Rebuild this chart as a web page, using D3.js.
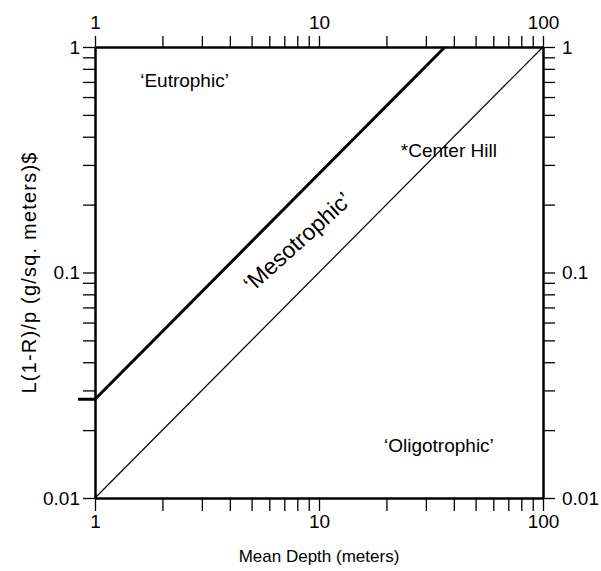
<!DOCTYPE html>
<html>
<head>
<meta charset="utf-8">
<script src="https://cdn.jsdelivr.net/npm/d3@7"></script>
<style>
  body { margin: 0; background: #fff; }
  svg text { font-family: Arial, "Liberation Sans", Helvetica, sans-serif; fill: #000; }
  .axis path { stroke: #000; stroke-width: 2.5; }
  .axis line { stroke: #000; stroke-width: 1.3; }
  .axis text { font-size: 19px; }
</style>
</head>
<body>
<div id="chart"></div>
<script>
var width = 601, height = 571;
var margin = {top: 47, right: 58, bottom: 73, left: 95};

// data
var xDomain = [1, 100];
var yDomain = [0.01, 1];
var xTicks = [1,2,3,4,5,6,7,8,9,10,20,30,40,50,60,70,80,90,100];
var xLabels = [1, 10, 100];
var yTicks = [0.01,0.02,0.03,0.04,0.05,0.06,0.07,0.08,0.09,0.1,0.2,0.3,0.4,0.5,0.6,0.7,0.8,0.9,1];
var yLabels = [0.01, 0.1, 1];
// boundary eutrophic / mesotrophic (thick)
var upperLine = [[0.84, 0.0274], [1, 0.0274], [36.5, 1]];
// boundary mesotrophic / oligotrophic (thin)
var lowerLine = [[1, 0.01], [100, 1]];
var regionLabels = [
  {text: "\u2018Eutrophic\u2019", x: 2.51, y: 0.70, angle: 0, size: 19},
  {text: "\u2018Mesotrophic\u2019", x: 8.1, y: 0.135, angle: -42, size: 23},
  {text: "*Center Hill", x: 38, y: 0.342, angle: 0, size: 19},
  {text: "\u2018Oligotrophic\u2019", x: 34.3, y: 0.0168, angle: 0, size: 19}
];

var svg = d3.select("#chart").append("svg")
  .attr("width", width)
  .attr("height", height);

var x = d3.scaleLog().domain(xDomain).range([margin.left, width - margin.right]);
var y = d3.scaleLog().domain(yDomain).range([height - margin.bottom, margin.top]);

var fmtX = function(d) { return xLabels.includes(d) ? d3.format("d")(d) : ""; };
var fmtY = function(d) {
  var hit = yLabels.find(function(v) { return Math.abs(v - d) < 1e-9; });
  return hit === undefined ? "" : String(hit);
};

svg.append("g").attr("class", "axis")
  .attr("transform", "translate(0," + y(0.01) + ")")
  .call(d3.axisBottom(x).tickValues(xTicks).tickFormat(fmtX).tickSize(13).tickSizeOuter(0).tickPadding(4));

svg.append("g").attr("class", "axis")
  .attr("transform", "translate(0," + y(1) + ")")
  .call(d3.axisTop(x).tickValues(xTicks).tickFormat(fmtX).tickSize(11).tickSizeOuter(0).tickPadding(7));

svg.append("g").attr("class", "axis")
  .attr("transform", "translate(" + x(1) + ",0)")
  .call(d3.axisLeft(y).tickValues(yTicks).tickFormat(fmtY).tickSize(12).tickSizeOuter(0).tickPadding(3));

svg.append("g").attr("class", "axis")
  .attr("transform", "translate(" + x(100) + ",0)")
  .call(d3.axisRight(y).tickValues(yTicks).tickFormat(fmtY).tickSize(12).tickSizeOuter(0).tickPadding(7));

var line = d3.line()
  .x(function(d) { return x(d[0]); })
  .y(function(d) { return y(d[1]); });

svg.append("path")
  .datum(upperLine)
  .attr("d", line)
  .attr("fill", "none")
  .attr("stroke", "#000")
  .attr("stroke-width", 3);

svg.append("path")
  .datum(lowerLine)
  .attr("d", line)
  .attr("fill", "none")
  .attr("stroke", "#000")
  .attr("stroke-width", 1.2);

svg.selectAll(".region")
  .data(regionLabels)
  .enter()
  .append("text")
  .attr("class", "region")
  .attr("text-anchor", "middle")
  .attr("dominant-baseline", "middle")
  .attr("font-size", function(d) { return d.size; })
  .attr("transform", function(d) {
    return "translate(" + x(d.x) + "," + y(d.y) + ") rotate(" + d.angle + ")";
  })
  .text(function(d) { return d.text; });

svg.append("text")
  .attr("x", (x(1) + x(100)) / 2)
  .attr("y", 562)
  .attr("text-anchor", "middle")
  .attr("font-size", 17)
  .text("Mean Depth (meters)");

svg.append("text")
  .attr("transform", "translate(36," + (y(0.01) + y(1)) / 2 + ") rotate(-90)")
  .attr("text-anchor", "middle")
  .attr("font-size", 20)
  .attr("letter-spacing", "1.2px")
  .text("L(1-R)/p (g/sq. meters)$");
</script>
</body>
</html>
